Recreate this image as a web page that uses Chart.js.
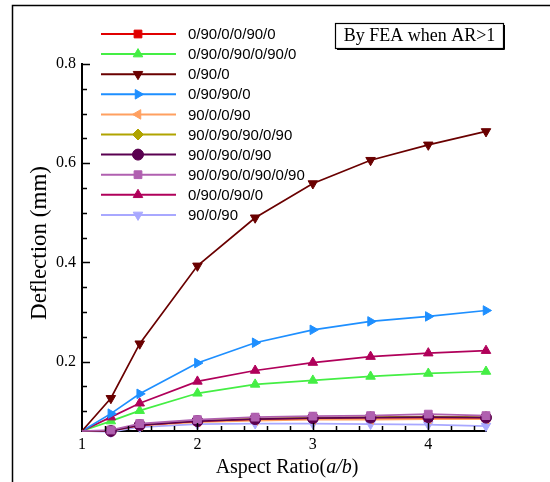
<!DOCTYPE html>
<html>
<head>
<meta charset="utf-8">
<script src="https://cdn.jsdelivr.net/npm/chart.js@4.4.0/dist/chart.umd.min.js"></script>
<style>
  body { margin: 0; background: #fff; }
  #wrap { width: 550px; height: 482px; }
</style>
</head>
<body>
<div id="wrap"><canvas id="deflection" width="550" height="482"></canvas></div>
<script>
// aspect ratio a/b
const aspectRatios = [1, 1.25, 1.5, 2, 2.5, 3, 3.5, 4, 4.5];

// deflection (mm) per lay-up
const lay_0_90_0_0_90_0 = [0.06, 0.061, 0.072, 0.080, 0.084, 0.086, 0.087, 0.087, 0.087];
const lay_0_90_0_90_0_90_0 = [0.06, 0.080, 0.101, 0.136, 0.154, 0.162, 0.170, 0.176, 0.180];
const lay_0_90_0 = [0.06, 0.126, 0.236, 0.393, 0.490, 0.559, 0.606, 0.637, 0.664];
const lay_0_90_90_0 = [0.06, 0.095, 0.135, 0.197, 0.238, 0.264, 0.281, 0.291, 0.303];
const lay_90_0_0_90 = [0.06, 0.060, 0.071, 0.078, 0.081, 0.083, 0.083, 0.084, 0.084];
const lay_90_0_90_90_0_90 = [0.06, 0.061, 0.073, 0.081, 0.085, 0.087, 0.088, 0.089, 0.088];
const lay_90_0_90_0_90 = [0.06, 0.060, 0.072, 0.080, 0.084, 0.086, 0.087, 0.088, 0.087];
const lay_90_0_90_0_90_0_90 = [0.06, 0.062, 0.075, 0.083, 0.088, 0.090, 0.091, 0.094, 0.091];
const lay_0_90_0_90_0 = [0.06, 0.088, 0.116, 0.160, 0.182, 0.198, 0.210, 0.217, 0.222];
const lay_90_0_90 = [0.06, 0.058, 0.068, 0.074, 0.075, 0.075, 0.074, 0.073, 0.070];

const xMajorTicks = [1, 2, 3, 4];
const yMajorTicks = [0.2, 0.4, 0.6, 0.8];

function series(label, values, color, style, rotation, order) {
    return {
        label: label,
        data: values.map((v, i) => ({ x: aspectRatios[i], y: v })),
        borderColor: color,
        backgroundColor: color,
        pointBackgroundColor: color,
        pointBorderColor: color,
        pointStyle: style,
        rotation: rotation,
        // no symbol at the shared start point a/b = 1
        pointRadius: values.map((v, i) => i === 0 ? 0 : 5.5),
        pointHoverRadius: 5.5,
        borderWidth: 1.7,
        pointBorderWidth: 1,
        tension: 0,
        clip: 8,
        order: order
    };
}

const datasets = [
    series("0/90/0/0/90/0", lay_0_90_0_0_90_0, "#e00000", "rect", 0, 5),
    series("0/90/0/90/0/90/0", lay_0_90_0_90_0_90_0, "#44ee44", "triangle", 0, 4),
    series("0/90/0", lay_0_90_0, "#6a0000", "triangle", 180, 3),
    series("0/90/90/0", lay_0_90_90_0, "#1e8fff", "triangle", 90, 3),
    series("90/0/0/90", lay_90_0_0_90, "#ffa060", "triangle", -90, 6),
    series("90/0/90/90/0/90", lay_90_0_90_90_0_90, "#b0a400", "rectRot", 0, 4),
    series("90/0/90/0/90", lay_90_0_90_0_90, "#5a0050", "circle", 0, 2),
    series("90/0/90/0/90/0/90", lay_90_0_90_0_90_0_90, "#b060b0", "rect", 0, 1),
    series("0/90/0/90/0", lay_0_90_0_90_0, "#b0005a", "triangle", 0, 3),
    series("90/0/90", lay_90_0_90, "#a8a8ff", "triangle", 180, 7)
];

// inward tick marks, axis titles, legend, note box, frame
const decorations = {
    id: "decorations",
    afterDraw(chart) {
        const ctx = chart.ctx;
        const xs = chart.scales.x, ys = chart.scales.y;
        const area = chart.chartArea;
        ctx.save();
        ctx.strokeStyle = "#000";
        ctx.lineWidth = 1.5;
        ctx.beginPath();
        for (let v = 0.1; v <= 0.8001; v += 0.05) {
            const y = Math.round(ys.getPixelForValue(v)) + 0.5;
            const major = yMajorTicks.some(t => Math.abs(t - v) < 1e-6);
            ctx.moveTo(area.left, y);
            ctx.lineTo(area.left + (major ? 8 : 5), y);
        }
        for (let v = 1.2; v <= 4.4001; v += 0.2) {
            const x = Math.round(xs.getPixelForValue(v)) + 0.5;
            const major = xMajorTicks.some(t => Math.abs(t - v) < 1e-6);
            ctx.moveTo(x, area.bottom);
            ctx.lineTo(x, area.bottom - (major ? 8 : 5));
        }
        ctx.stroke();

        // figure frame
        ctx.lineWidth = 1.5;
        ctx.beginPath();
        ctx.moveTo(12.5, 482);
        ctx.lineTo(12.5, 5.5);
        ctx.lineTo(550, 5.5);
        ctx.stroke();

        // axis titles
        ctx.fillStyle = "#000";
        ctx.textBaseline = "middle";
        const parts = [
            ["Aspect Ratio(", "20px 'Liberation Serif'"],
            ["a/b", "italic 20px 'Liberation Serif'"],
            [")", "20px 'Liberation Serif'"]
        ];
        let total = 0;
        parts.forEach(p => { ctx.font = p[1]; total += ctx.measureText(p[0]).width; });
        let px = (area.left + area.right) / 2 + 3 - total / 2;
        ctx.textAlign = "left";
        parts.forEach(p => { ctx.font = p[1]; ctx.fillText(p[0], px, 468); px += ctx.measureText(p[0]).width; });

        ctx.save();
        ctx.translate(40, 243);
        ctx.rotate(-Math.PI / 2);
        ctx.textAlign = "center";
        ctx.font = "23px 'Liberation Serif'";
        ctx.fillText("Deflection (mm)", 0, 0);
        ctx.restore();

        // legend
        ctx.font = "15px 'Liberation Sans'";
        ctx.textAlign = "left";
        chart.data.datasets.forEach((ds, i) => {
            const y = 34 + i * 20.1;
            ctx.strokeStyle = ds.borderColor;
            ctx.lineWidth = 2;
            ctx.beginPath();
            ctx.moveTo(101, y);
            ctx.lineTo(176, y);
            ctx.stroke();
            ctx.fillStyle = ds.backgroundColor;
            ctx.lineWidth = 1;
            Chart.helpers.drawPoint(ctx, {
                pointStyle: ds.pointStyle,
                rotation: ds.rotation,
                radius: 5.5,
                borderWidth: 1
            }, 138, y);
            ctx.fillStyle = "#000";
            ctx.fillText(ds.label, 188, y + 1);
        });

        // note box
        ctx.strokeStyle = "#000";
        ctx.lineWidth = 1.2;
        ctx.strokeRect(335.5, 23.5, 168, 25);
        ctx.lineWidth = 1;
        ctx.beginPath();
        ctx.moveTo(337, 49.5);
        ctx.lineTo(504.5, 49.5);
        ctx.lineTo(504.5, 25);
        ctx.stroke();
        ctx.fillStyle = "#000";
        ctx.font = "18px 'Liberation Serif'";
        ctx.textAlign = "center";
        ctx.fillText("By FEA when AR>1", 419.5, 36.5);
        ctx.restore();
    }
};

new Chart(document.getElementById("deflection").getContext("2d"), {
    type: "line",
    data: { datasets: datasets },
    options: {
        responsive: false,
        animation: false,
        events: [],
        layout: { padding: { left: 0, right: 64, top: 64, bottom: 0 } },
        plugins: {
            legend: { display: false },
            tooltip: { enabled: false }
        },
        scales: {
            x: {
                type: "linear",
                min: 1,
                max: 4.5,
                afterBuildTicks: s => { s.ticks = xMajorTicks.map(v => ({ value: v })); },
                afterFit: s => { s.height = 51; },
                grid: { display: true, drawOnChartArea: false, drawTicks: false },
                border: { display: true, color: "#000", width: 2 },
                ticks: {
                    color: "#000",
                    padding: 4,
                    maxRotation: 0,
                    font: { family: "'Liberation Serif'", size: 16 },
                    callback: v => String(v)
                }
            },
            y: {
                type: "linear",
                min: 0.06,
                max: 0.8,
                afterBuildTicks: s => { s.ticks = yMajorTicks.map(v => ({ value: v })); },
                afterFit: s => { s.width = 82; },
                grid: { display: true, drawOnChartArea: false, drawTicks: false },
                border: { display: true, color: "#000", width: 2 },
                ticks: {
                    color: "#000",
                    padding: 6,
                    font: { family: "'Liberation Serif'", size: 16 },
                    callback: v => v.toFixed(1)
                }
            }
        }
    },
    plugins: [decorations]
});
</script>
</body>
</html>
